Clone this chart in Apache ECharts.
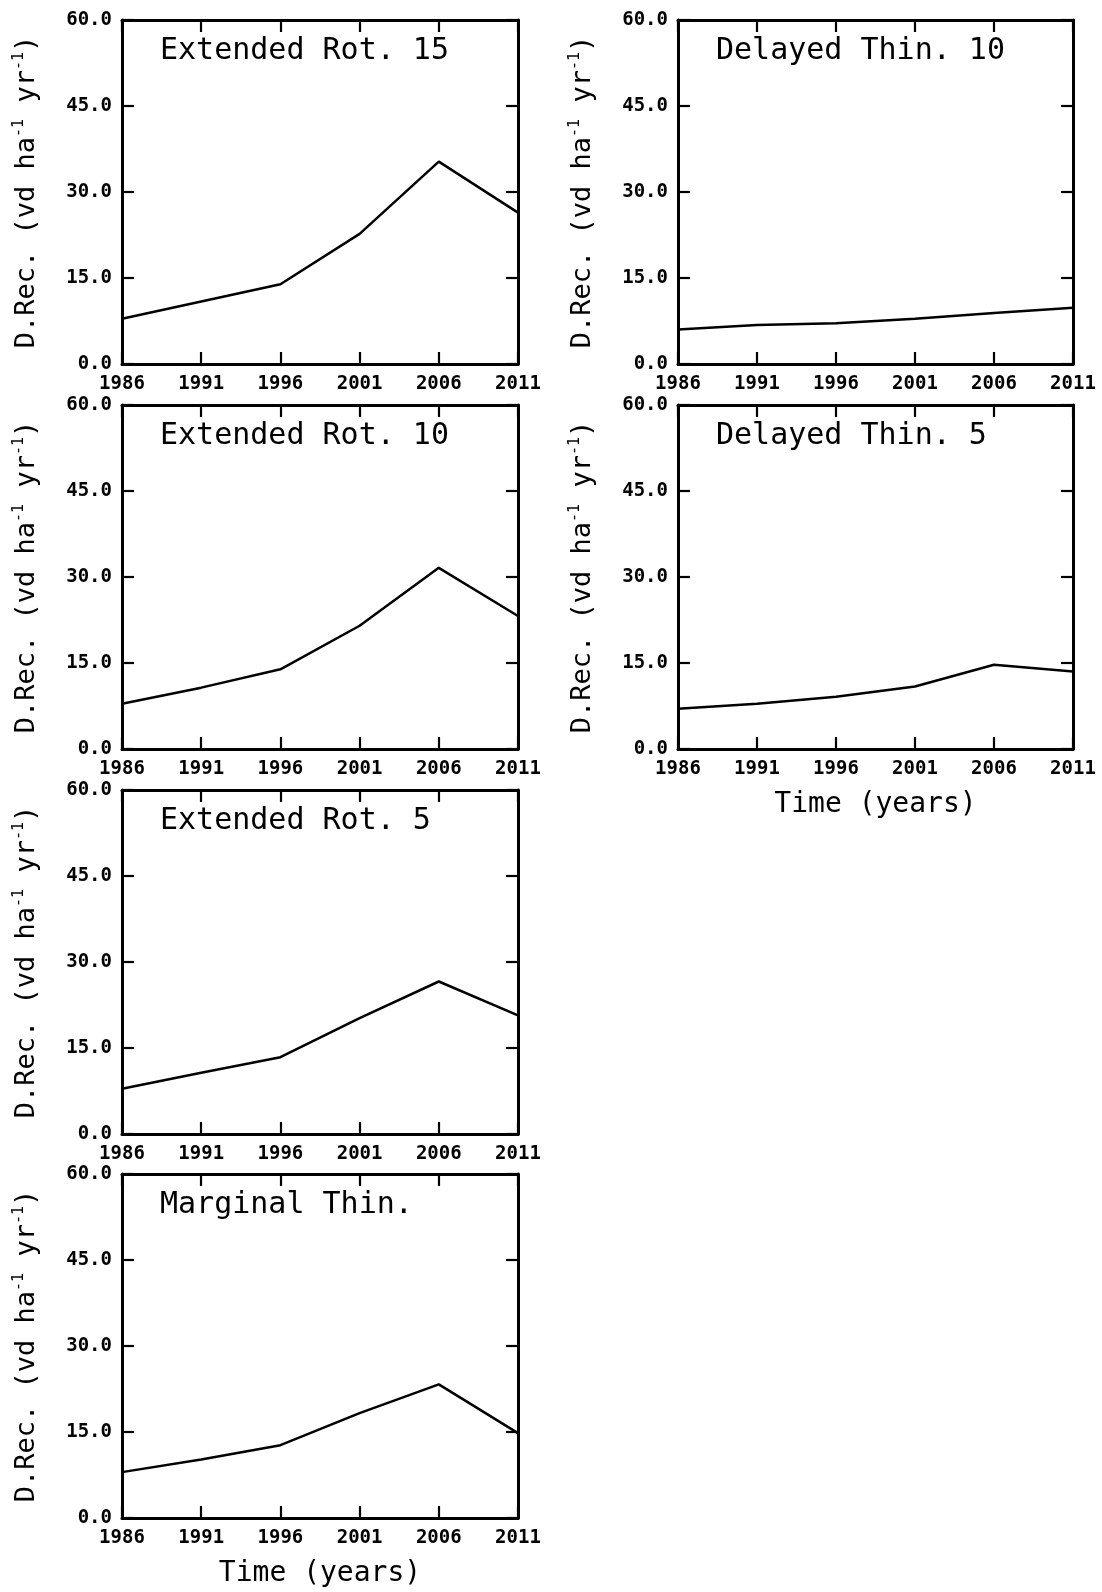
<!DOCTYPE html>
<html>
<head>
<meta charset="utf-8">
<script src="https://cdn.jsdelivr.net/npm/echarts@6/dist/echarts.min.js"></script>
<style>
html,body{margin:0;padding:0;background:#fff;}
#chart{width:1102px;height:1592px;}
</style>
</head>
<body>
<div id="chart"></div>
<script>
// ---- data ----
const years = ['1986', '1991', '1996', '2001', '2006', '2011'];
const yMin = 0, yMax = 60, yStep = 15;

const extendedRot15 = [7.9, 10.9, 13.9, 22.7, 35.3, 26.4];
const delayedThin10 = [6.0, 6.8, 7.1, 7.9, 8.9, 9.8];
const extendedRot10 = [7.9, 10.7, 13.9, 21.5, 31.6, 23.2];
const delayedThin5  = [7.0, 7.9, 9.1, 10.9, 14.7, 13.5];
const extendedRot5  = [7.9, 10.7, 13.4, 20.2, 26.6, 20.7];
const marginalThin  = [8.0, 10.2, 12.7, 18.3, 23.3, 14.8];

const panelTitles = ['Extended Rot. 15', 'Delayed Thin. 10', 'Extended Rot. 10',
                     'Delayed Thin. 5', 'Extended Rot. 5', 'Marginal Thin.'];
const panelData = [extendedRot15, delayedThin10, extendedRot10, delayedThin5, extendedRot5, marginalThin];
const xAxisTitle = 'Time (years)';

// ---- layout ----
const colLeft = [122, 678];
const colWidth = [396, 395];
const rowTop = [20, 405, 790, 1174];
const panelH = 344;
// [col, row, showXName]
const placement = [[0,0,false],[1,0,false],[0,1,false],[1,1,true],[0,2,false],[0,3,true]];

const mono = 'DejaVu Sans Mono';
const lineW = 3;
const tickLen = 12;

const grids = [], xAxes = [], yAxes = [], series = [], titles = [];

placement.forEach((p, i) => {
  const [c, r, showX] = p;
  grids.push({left: colLeft[c], top: rowTop[r], width: colWidth[c], height: panelH, containLabel: false});
  const axisLine = {show: true, onZero: false, lineStyle: {color: '#000', width: lineW}};
  const axisTick = {show: true, inside: true, length: tickLen, lineStyle: {color: '#000', width: 2.2}};
  xAxes.push({
    gridIndex: i, type: 'category', data: years, boundaryGap: false, position: 'bottom',
    axisLine, axisTick: Object.assign({alignWithLabel: true}, axisTick),
    axisLabel: {show: true, color: '#000', fontFamily: mono, fontWeight: 'bold', fontSize: 19, margin: 11, interval: 0},
    splitLine: {show: false},
    name: showX ? xAxisTitle : '', nameLocation: 'middle', nameGap: 42,
    nameTextStyle: {color: '#000', fontFamily: mono, fontSize: 28}
  });
  xAxes.push({
    gridIndex: i, type: 'category', data: years, boundaryGap: false, position: 'top',
    axisLine, axisTick, axisLabel: {show: false}, splitLine: {show: false}
  });
  yAxes.push({
    gridIndex: i, type: 'value', min: yMin, max: yMax, interval: yStep, position: 'left',
    axisLine, axisTick,
    axisLabel: {show: true, color: '#000', fontFamily: mono, fontWeight: 'bold', fontSize: 19, margin: 10,
                formatter: v => v.toFixed(1)},
    splitLine: {show: false},
    name: '{a|D.Rec. (vd ha}{s|-1}{a| yr}{s|-1}{a|)}',
    nameLocation: 'middle', nameRotate: 90, nameGap: 80,
    nameTextStyle: {
      color: '#000',
      rich: {
        a: {fontFamily: mono, fontSize: 27, color: '#000', lineHeight: 30},
        s: {fontFamily: mono, fontSize: 15, color: '#000', verticalAlign: 'top', lineHeight: 30}
      }
    }
  });
  yAxes.push({
    gridIndex: i, type: 'value', min: yMin, max: yMax, interval: yStep, position: 'right',
    axisLine, axisTick, axisLabel: {show: false}, splitLine: {show: false}
  });
  series.push({
    type: 'line', xAxisIndex: 2*i, yAxisIndex: 2*i, data: panelData[i],
    symbol: 'none', lineStyle: {color: '#000', width: 2.5}, silent: true, animation: false
  });
  titles.push({
    text: panelTitles[i], left: colLeft[c] + 33, top: rowTop[r] + 11,
    textStyle: {color: '#000', fontFamily: mono, fontWeight: 'normal', fontSize: 30}
  });
});

const chart = echarts.init(document.getElementById('chart'), null, {renderer: 'canvas'});
chart.setOption({
  backgroundColor: '#fff',
  animation: false,
  title: titles,
  grid: grids,
  xAxis: xAxes,
  yAxis: yAxes,
  series: series
});
</script>
</body>
</html>
